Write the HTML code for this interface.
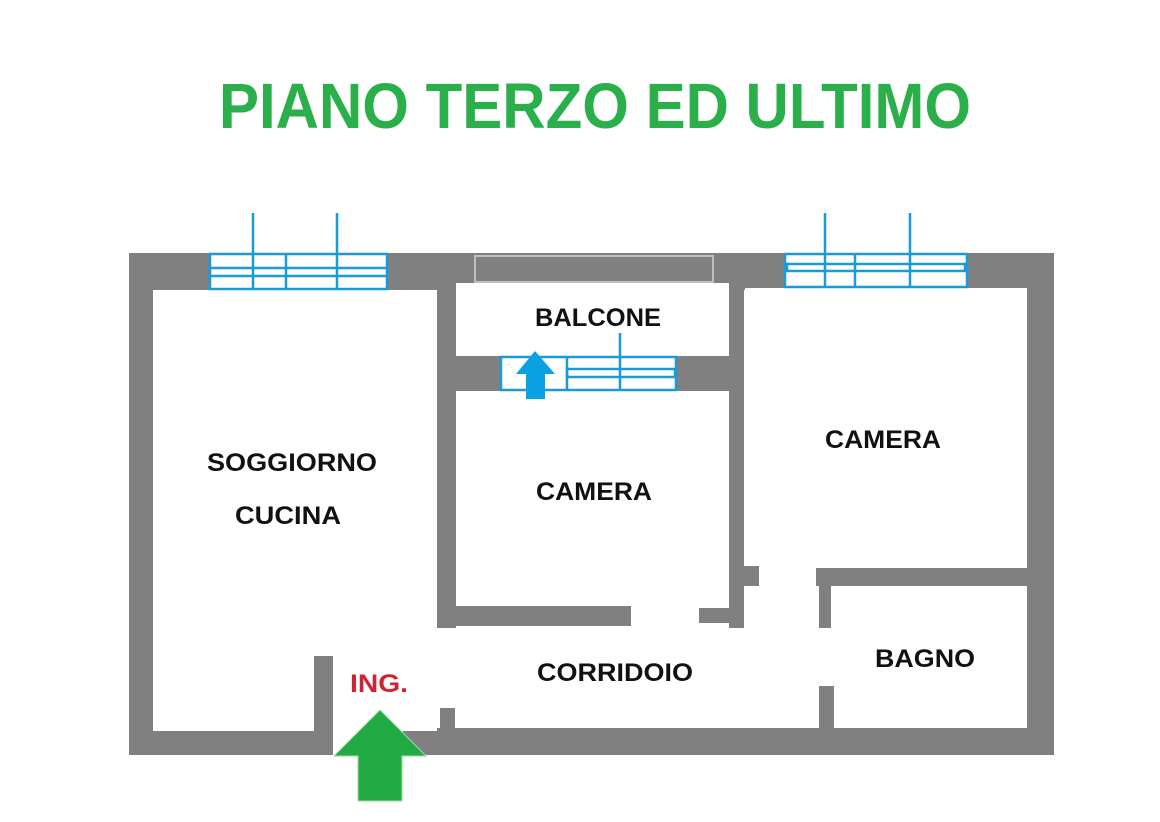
<!DOCTYPE html>
<html><head><meta charset="utf-8"><style>html,body{margin:0;padding:0;background:#fff}svg{display:block}</style></head>
<body>
<svg width="1160" height="822" viewBox="0 0 1160 822" xmlns="http://www.w3.org/2000/svg">
<rect width="1160" height="822" fill="#fff"/>
<text x="595" y="128" text-anchor="middle" font-family="Liberation Sans, sans-serif" font-weight="bold" font-size="64" fill="#2aaf4a" textLength="752" lengthAdjust="spacingAndGlyphs">PIANO TERZO ED ULTIMO</text>
<g fill="#808080">
<!-- outer walls -->
<rect x="129" y="253" width="925" height="37"/>
<rect x="129" y="253" width="24" height="502"/>
<rect x="1027" y="253" width="27" height="502"/>
<rect x="129" y="731" width="204" height="24"/>
<rect x="403" y="728" width="651" height="27"/>
<!-- soggiorno stub -->
<rect x="314" y="656" width="19" height="80"/>
<!-- middle left wall -->
<rect x="437" y="283" width="19" height="345"/>
<rect x="440" y="708" width="15" height="23"/>
<!-- balcony bottom wall -->
<rect x="440" y="356" width="304" height="35"/>
<!-- vertical between middle and right -->
<rect x="729" y="283" width="15" height="345"/>
<rect x="744" y="566" width="15" height="20"/>
<!-- right horizontal -->
<rect x="816" y="568" width="211" height="18"/>
<rect x="819" y="586" width="12" height="42"/>
<rect x="819" y="686" width="15" height="45"/>
<!-- middle camera bottom -->
<rect x="456" y="606" width="175" height="20"/>
<rect x="699" y="608" width="30" height="15"/>
</g>
<!-- balcony interior -->
<rect x="456" y="283" width="273" height="73" fill="#fff"/>
<rect x="745" y="288" width="282" height="278" fill="#fff"/>
<rect x="153" y="290" width="284" height="441" fill="#fff"/>
<rect x="314" y="656" width="19" height="75" fill="#808080"/>
<rect x="475" y="256" width="238" height="26" fill="#808080" stroke="#c0c0c0" stroke-width="2"/>
<!-- left window -->
<g stroke="#1a9ad6" stroke-width="2.5" fill="#fff">
<rect x="210" y="254" width="177" height="35"/>
<rect x="210" y="268" width="177" height="8"/>
<line x1="253" y1="213" x2="253" y2="289"/>
<line x1="286" y1="254" x2="286" y2="289"/>
<line x1="337" y1="213" x2="337" y2="289"/>
<!-- right window -->
<rect x="785" y="254" width="182" height="33"/>
<rect x="787" y="264" width="178" height="7"/>
<line x1="825" y1="213" x2="825" y2="287"/>
<line x1="855" y1="254" x2="855" y2="287"/>
<line x1="910" y1="213" x2="910" y2="287"/>
<!-- balcony window -->
<rect x="501" y="357" width="175" height="33"/>
<rect x="567" y="369" width="108" height="8"/>
<line x1="567" y1="357" x2="567" y2="390"/>
<line x1="620" y1="333" x2="620" y2="390"/>
</g>
<polygon points="535,351 555,374 545,374 545,399 526,399 526,374 516,374" fill="#0aa0e2"/>
<polygon points="380,710 426,756 402,756 402,801 358,801 358,756 334,756" fill="#22ab45" stroke="#9fd89b" stroke-width="1"/>
<g font-family="Liberation Sans, sans-serif" font-size="25" fill="#111" text-anchor="middle" font-weight="bold">
<text x="598" y="326" textLength="126" lengthAdjust="spacingAndGlyphs">BALCONE</text>
<text x="292" y="471" textLength="170" lengthAdjust="spacingAndGlyphs">SOGGIORNO</text>
<text x="288" y="524" textLength="106" lengthAdjust="spacingAndGlyphs">CUCINA</text>
<text x="594" y="500" textLength="116" lengthAdjust="spacingAndGlyphs">CAMERA</text>
<text x="883" y="448" textLength="116" lengthAdjust="spacingAndGlyphs">CAMERA</text>
<text x="615" y="681" textLength="156" lengthAdjust="spacingAndGlyphs">CORRIDOIO</text>
<text x="925" y="667" textLength="100" lengthAdjust="spacingAndGlyphs">BAGNO</text>
<text x="379" y="692" fill="#d3222f" textLength="58" lengthAdjust="spacingAndGlyphs">ING.</text>
</g>
</svg>
</body></html>
